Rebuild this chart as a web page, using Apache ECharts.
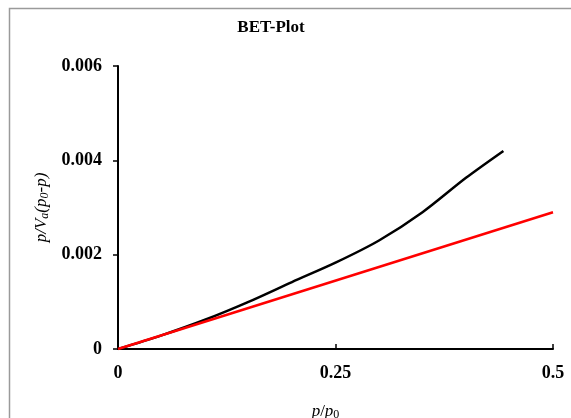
<!DOCTYPE html>
<html><head><meta charset="utf-8">
<script src="https://cdn.jsdelivr.net/npm/echarts@6/dist/echarts.min.js"></script>
<style>html,body{margin:0;padding:0;background:#fff}#c{width:571px;height:418px}</style>
</head><body><div id="c"></div>
<script>
const xTicks = [0, 0.25, 0.5];
const yTicks = [0, 0.002, 0.004, 0.006];
const betX = [0, 0.05, 0.1, 0.15, 0.2, 0.25, 0.3, 0.35, 0.4, 0.443];
const betY = [0, 0.00029, 0.00062, 0.00100, 0.00142, 0.00183, 0.00230, 0.00290, 0.00363, 0.00420];
const fitX = [0, 0.5];
const fitY = [0, 0.0029];

const chart = echarts.init(document.getElementById('c'));
const serif = 'Liberation Serif, Times New Roman, serif';
chart.setOption({
  animation: false,
  title: { text: 'BET-Plot', left: 266, top: 14, textAlign: 'center',
    textStyle: { fontFamily: serif, fontWeight: 'bold', fontSize: 17, color: '#000' } },
  graphic: [{ type: 'polyline', shape: { points: [[9.5, 430], [9.5, 8.5], [580, 8.5]] },
    style: { stroke: '#9a9a9a', lineWidth: 1.5, fill: null } }],
  grid: { left: 118, right: 18, top: 66, bottom: 69, outerBoundsMode: 'none', containLabel: false },
  xAxis: {
    type: 'value', min: 0, max: 0.5, interval: 0.25,
    axisLine: { lineStyle: { color: '#000', width: 2 } },
    axisTick: { inside: true, length: 5, lineStyle: { color: '#000', width: 1.5 } },
    splitLine: { show: false },
    axisLabel: { margin: 15, fontFamily: serif, fontWeight: 'bold', fontSize: 18, color: '#000',
      formatter: v => xTicks.includes(v) ? String(v) : '' },
    name: '{i|p}{n|/}{i|p}{s|0}', nameLocation: 'middle', nameGap: 54,
    nameTextStyle: { padding: [0, 20, 0, 0], rich: {
      i: { fontFamily: serif, fontStyle: 'italic', fontSize: 17, color: '#000' },
      n: { fontFamily: serif, fontSize: 17, color: '#000' },
      s: { fontFamily: serif, fontSize: 12, color: '#000', padding: [6, 0, 0, 0] } } }
  },
  yAxis: {
    type: 'value', min: 0, max: 0.006, interval: 0.002,
    axisLine: { show: true, lineStyle: { color: '#000', width: 2 } },
    axisTick: { show: true, length: 5, lineStyle: { color: '#000', width: 1.5 } },
    splitLine: { show: false },
    axisLabel: { margin: 16, fontFamily: serif, fontWeight: 'bold', fontSize: 18, color: '#000',
      formatter: v => { const t = yTicks.find(k => Math.abs(k - v) < 1e-9); return t === undefined ? '' : (t === 0 ? '0' : t.toFixed(3)); } },
    name: '{i|p/V}{s|a}{i|(p}{s|0}{i|-p)}', nameLocation: 'middle', nameGap: 59,
    nameTextStyle: { rich: {
      i: { fontFamily: serif, fontStyle: 'italic', fontSize: 17, color: '#000' },
      s: { fontFamily: serif, fontStyle: 'italic', fontSize: 12, color: '#000', padding: [6, 0, 0, 0] } } }
  },
  series: [
    { type: 'line', data: betX.map((x, i) => [x, betY[i]]), smooth: 0.3, symbol: 'none',
      lineStyle: { color: '#000', width: 2.5 } },
    { type: 'line', data: fitX.map((x, i) => [x, fitY[i]]), symbol: 'none',
      lineStyle: { color: '#ff0000', width: 2.5 } }
  ]
});
</script></body></html>
